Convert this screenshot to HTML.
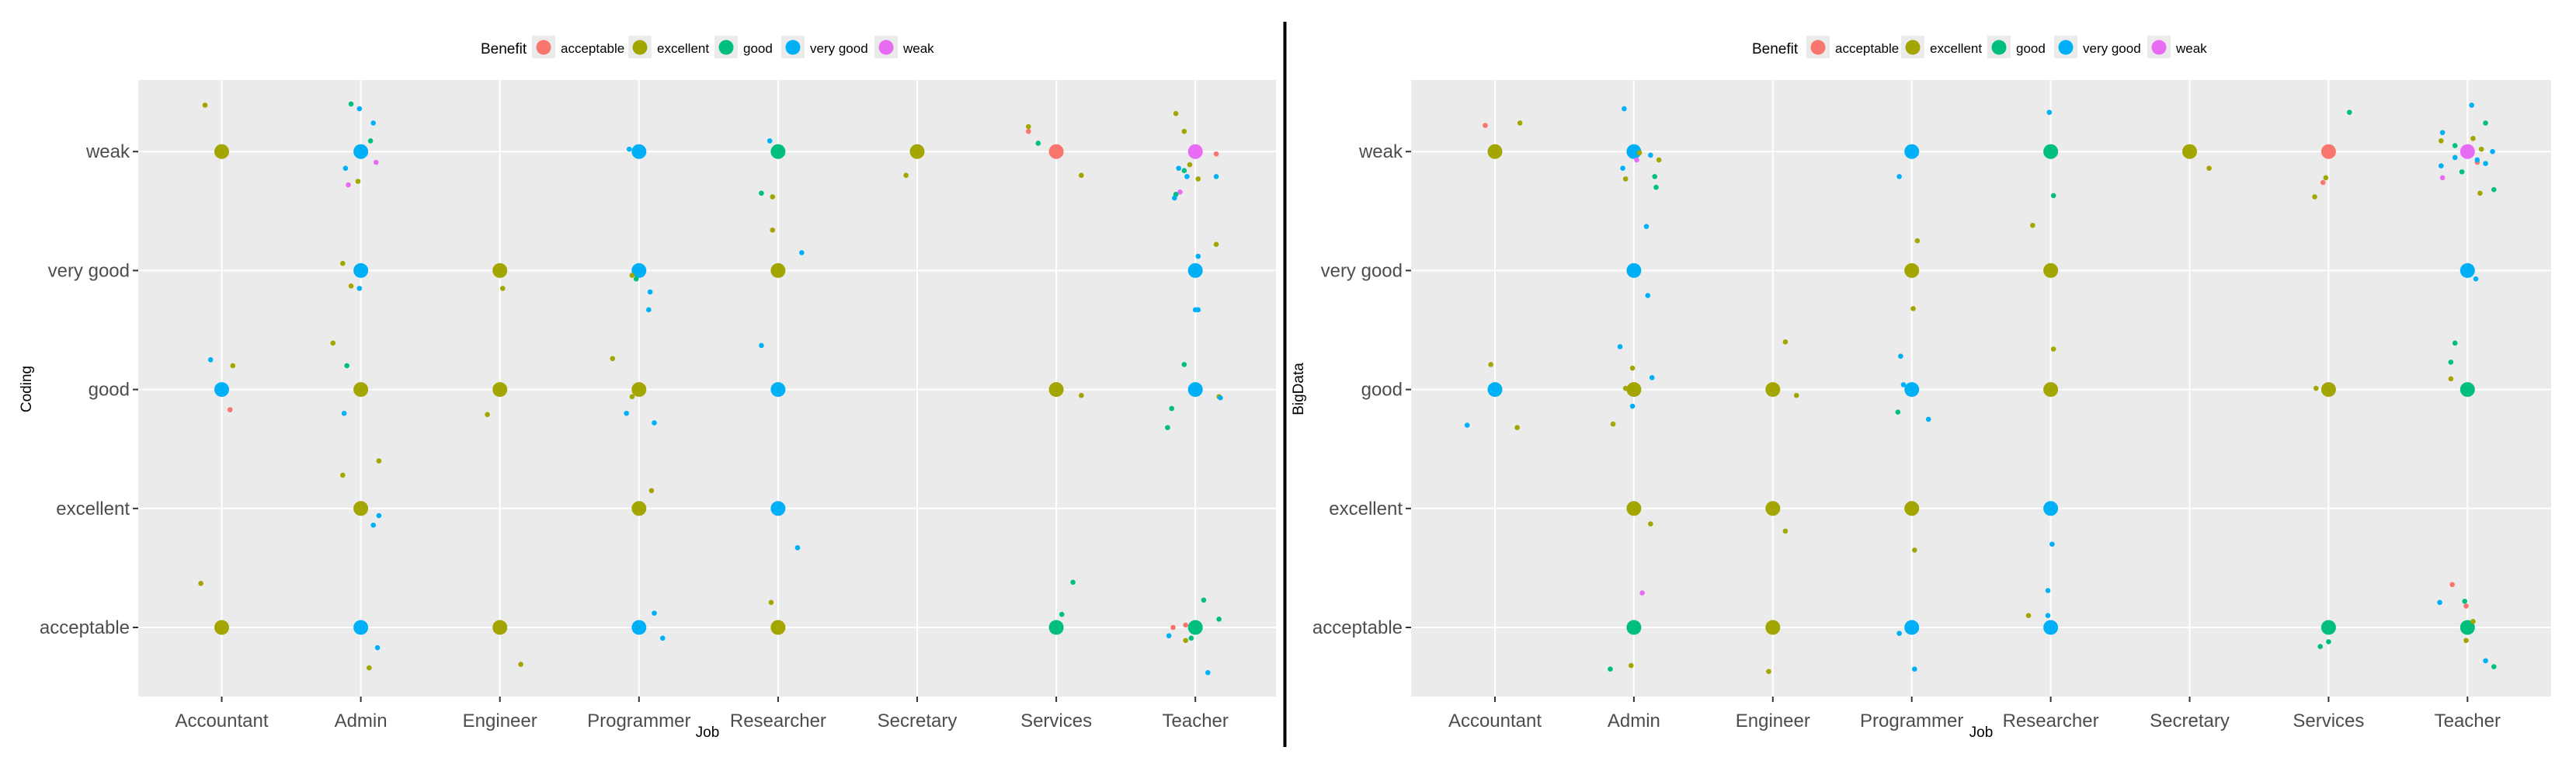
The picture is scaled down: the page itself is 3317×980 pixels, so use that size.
<!DOCTYPE html>
<html><head><meta charset="utf-8">
<style>
html,body{margin:0;padding:0;background:#fff;}
svg{display:block;font-family:"Liberation Sans",Arial,sans-serif;}
</style></head>
<body>
<svg id="chart" width="3317" height="980" viewBox="0 0 3317 980" xmlns="http://www.w3.org/2000/svg"></svg>
<script>
const jobs = ["Accountant","Admin","Engineer","Programmer","Researcher","Secretary","Services","Teacher"];
const levels = ["acceptable","excellent","good","very good","weak"];
const benefits = ["acceptable","excellent","good","very good","weak"];
const benefitCodes = ["A","E","G","V","W"];
const benefitColors = ["#F8766D","#A3A500","#00BF7D","#00B0F6","#E76BF3"];

// [jobIndex, levelIndex, benefitCode]
const codingBig = [
[0,4,"E"],[0,2,"V"],[0,0,"E"],
[1,4,"V"],[1,3,"V"],[1,2,"E"],[1,1,"E"],[1,0,"V"],
[2,3,"E"],[2,2,"E"],[2,0,"E"],
[3,4,"V"],[3,3,"V"],[3,2,"E"],[3,1,"E"],[3,0,"V"],
[4,4,"G"],[4,3,"E"],[4,2,"V"],[4,1,"V"],[4,0,"E"],
[5,4,"E"],
[6,4,"A"],[6,2,"E"],[6,0,"G"],
[7,4,"W"],[7,3,"V"],[7,2,"V"],[7,0,"G"]];
// [jobIndex, xJitter, yValue, benefitCode]
const codingSmall = [
[0,-.12,4.39,"E"],[0,-.08,2.25,"V"],[0,.08,2.20,"E"],[0,.06,1.83,"A"],[0,-.15,0.37,"E"],
[1,-.07,4.40,"G"],[1,-.01,4.36,"V"],[1,.09,4.24,"V"],[1,.07,4.09,"G"],[1,.11,3.91,"W"],[1,-.11,3.86,"V"],[1,-.02,3.75,"E"],[1,-.09,3.72,"W"],[1,-.13,3.06,"E"],[1,-.07,2.87,"E"],[1,-.01,2.85,"V"],[1,-.20,2.39,"E"],[1,-.10,2.20,"G"],[1,-.12,1.80,"V"],[1,.13,1.40,"E"],[1,-.13,1.28,"E"],[1,.13,0.94,"V"],[1,.09,0.86,"V"],[1,.12,-0.17,"V"],[1,.06,-0.34,"E"],
[2,.02,2.85,"E"],[2,-.09,1.79,"E"],[2,.15,-0.31,"E"],
[3,-.07,4.02,"V"],[3,-.02,2.93,"G"],[3,-.05,2.96,"E"],[3,.08,2.82,"V"],[3,.07,2.67,"V"],[3,-.19,2.26,"E"],[3,-.05,1.94,"E"],[3,-.09,1.80,"V"],[3,.11,1.72,"V"],[3,.09,1.15,"E"],[3,.11,0.12,"V"],[3,.17,-0.09,"V"],
[4,-.06,4.09,"V"],[4,-.12,3.65,"G"],[4,-.04,3.62,"E"],[4,-.04,3.34,"E"],[4,.17,3.15,"V"],[4,-.12,2.37,"V"],[4,.14,0.67,"V"],[4,-.05,0.21,"E"],
[5,-.08,3.80,"E"],
[6,-.20,4.21,"E"],[6,-.20,4.17,"A"],[6,-.13,4.07,"G"],[6,.18,3.80,"E"],[6,.18,1.95,"E"],[6,.12,0.38,"G"],[6,.04,0.11,"G"],
[7,-.14,4.32,"E"],[7,-.08,4.17,"E"],[7,.15,3.98,"A"],[7,-.04,3.89,"E"],[7,-.12,3.86,"V"],[7,-.08,3.84,"G"],[7,-.06,3.79,"V"],[7,.02,3.77,"E"],[7,.15,3.79,"V"],[7,-.11,3.66,"W"],[7,-.14,3.64,"G"],[7,-.15,3.61,"V"],[7,.15,3.22,"E"],[7,.02,3.12,"V"],[7,0,2.67,"V"],[7,.02,2.67,"V"],[7,-.08,2.21,"G"],[7,.17,1.94,"E"],[7,.18,1.93,"V"],[7,-.17,1.84,"G"],[7,-.20,1.68,"G"],[7,.06,0.23,"G"],[7,.17,0.07,"G"],[7,-.16,0.0,"A"],[7,-.07,0.02,"A"],[7,-.19,-0.07,"V"],[7,-.03,-0.09,"G"],[7,-.07,-0.11,"E"],[7,.09,-0.38,"V"]];

const bigDataBig = [
[0,4,"E"],[0,2,"V"],
[1,4,"V"],[1,3,"V"],[1,2,"E"],[1,1,"E"],[1,0,"G"],
[2,2,"E"],[2,1,"E"],[2,0,"E"],
[3,4,"V"],[3,3,"E"],[3,2,"V"],[3,1,"E"],[3,0,"V"],
[4,4,"G"],[4,3,"E"],[4,2,"E"],[4,1,"V"],[4,0,"V"],
[5,4,"E"],
[6,4,"A"],[6,2,"E"],[6,0,"G"],
[7,4,"W"],[7,3,"V"],[7,2,"G"],[7,0,"G"]];
const bigDataSmall = [
[0,-.07,4.22,"A"],[0,.18,4.24,"E"],[0,-.03,2.21,"E"],[0,-.20,1.70,"V"],[0,.16,1.68,"E"],
[1,-.07,4.36,"V"],[1,.04,3.99,"E"],[1,.12,3.97,"V"],[1,.02,3.93,"W"],[1,.18,3.93,"E"],[1,-.08,3.86,"V"],[1,.15,3.79,"G"],[1,-.06,3.77,"E"],[1,.16,3.70,"G"],[1,.09,3.37,"V"],[1,.10,2.79,"V"],[1,-.10,2.36,"V"],[1,-.01,2.18,"E"],[1,.13,2.10,"V"],[1,-.06,2.01,"E"],[1,-.01,1.86,"V"],[1,-.15,1.71,"E"],[1,.12,0.87,"E"],[1,.06,0.29,"W"],[1,-.02,-0.32,"E"],[1,-.17,-0.35,"G"],
[2,.09,2.40,"E"],[2,.17,1.95,"E"],[2,.09,0.81,"E"],[2,-.03,-0.37,"E"],
[3,-.09,3.79,"V"],[3,.04,3.25,"E"],[3,.01,2.68,"E"],[3,-.08,2.28,"V"],[3,-.06,2.04,"V"],[3,-.10,1.81,"G"],[3,.12,1.75,"V"],[3,.02,0.65,"E"],[3,-.09,-0.05,"V"],[3,.02,-0.35,"V"],
[4,-.01,4.33,"V"],[4,.02,3.63,"G"],[4,-.13,3.38,"E"],[4,.02,2.34,"E"],[4,.01,0.70,"V"],[4,-.02,0.31,"V"],[4,-.16,0.10,"E"],[4,-.02,0.10,"V"],
[5,.14,3.86,"E"],
[6,.15,4.33,"G"],[6,-.02,3.78,"E"],[6,-.04,3.74,"A"],[6,-.10,3.62,"E"],[6,-.09,2.01,"E"],[6,0,-0.12,"G"],[6,-.06,-0.16,"G"],
[7,.03,4.39,"V"],[7,.13,4.24,"G"],[7,-.18,4.16,"V"],[7,.04,4.11,"E"],[7,-.19,4.09,"E"],[7,-.09,4.05,"G"],[7,.10,4.02,"E"],[7,.18,4.00,"V"],[7,-.09,3.95,"V"],[7,.07,3.91,"A"],[7,.07,3.93,"V"],[7,.13,3.90,"V"],[7,-.19,3.88,"V"],[7,-.04,3.83,"G"],[7,-.18,3.78,"W"],[7,.19,3.68,"G"],[7,.09,3.65,"E"],[7,.06,2.93,"V"],[7,-.09,2.39,"G"],[7,-.12,2.23,"G"],[7,-.12,2.09,"E"],[7,-.11,0.36,"A"],[7,-.02,0.22,"G"],[7,-.01,0.18,"A"],[7,-.20,0.21,"V"],[7,.04,0.05,"E"],[7,-.01,-0.11,"E"],[7,.13,-0.28,"V"],[7,.19,-0.33,"G"]];

const NS = "http://www.w3.org/2000/svg";
const svg = document.getElementById("chart");
function mk(tag, attrs, parent){
  const e = document.createElementNS(NS, tag);
  for (const k in attrs) e.setAttribute(k, attrs[k]);
  (parent||svg).appendChild(e);
  return e;
}
function colorOf(code){ return benefitColors[benefitCodes.indexOf(code)]; }

function panel(opt){
  const g = mk("g", {});
  
  
  const L = opt.left, R = opt.right, T = 103, B = 897;
  const x0 = opt.x0, xStep = opt.xStep;
  const y0 = 808, yStep = 153.2;
  const xs = i => x0 + i * xStep;
  const ys = v => y0 - v * yStep;
  const bg = mk("rect", {x:L, y:T, width:R-L, height:B-T, fill:"#EBEBEB"}, g);
  
  
  levels.forEach((lv,i)=>{
    const y = ys(i);
    const gl = mk("line", {x1:L, x2:R, y1:y, y2:y, stroke:"#fff", "stroke-width":2}, g);
    
    
    mk("line", {x1:L-7, x2:L, y1:y, y2:y, stroke:"#333", "stroke-width":2}, g);
    const t = mk("text", {x:L-11, y:y+8, "text-anchor":"end", "font-size":24, fill:"#4D4D4D"}, g);
    t.textContent = lv;
    
    
  });
  jobs.forEach((j,i)=>{
    const x = xs(i);
    const gl = mk("line", {x1:x, x2:x, y1:T, y2:B, stroke:"#fff", "stroke-width":2}, g);
    
    
    mk("line", {x1:x, x2:x, y1:B, y2:B+7, stroke:"#333", "stroke-width":2}, g);
    const t = mk("text", {x:x, y:B+39, "text-anchor":"middle", "font-size":24, fill:"#4D4D4D"}, g);
    t.textContent = j;
    
    
  });
  opt.big.forEach(p=>{
    const c = mk("circle", {cx:xs(p[0]), cy:ys(p[1]), r:9.5, fill:colorOf(p[2])}, g);
    
    
  });
  opt.small.forEach(p=>{
    const c = mk("circle", {cx:xs(p[0]+p[1]), cy:ys(p[2]), r:3.3, fill:colorOf(p[3])}, g);
    
    
  });
  const xt = mk("text", {x:opt.jobX, y:949, "text-anchor":"middle", "font-size":19, fill:"#000"}, g);
  xt.textContent = "Job";
  
  
  const yt = mk("text", {x:0, y:0, "text-anchor":"middle", "font-size":19, fill:"#000", transform:`translate(${opt.yTitleX},501) rotate(-90)`}, g);
  yt.textContent = opt.yTitle;
  
  
  // legend
  const lg = mk("g", {}, g);
  
  
  const lt = mk("text", {x:opt.leg.title, y:69, "font-size":19, fill:"#000"}, lg);
  lt.textContent = "Benefit";
  
  
  benefits.forEach((b,i)=>{
    const kx = opt.leg.keys[i];
    const e = mk("g", {}, lg);
    
    
    mk("rect", {x:kx-15, y:46, width:30, height:29, fill:"#EBEBEB"}, e);
    mk("circle", {cx:kx, cy:61, r:9.5, fill:benefitColors[i]}, e);
    const t = mk("text", {x:kx+22, y:68, "font-size":17, fill:"#000"}, e);
    t.textContent = b;
  });
}

panel({name:"coding-panel", left:178, right:1643, x0:285.5, xStep:179.1, big:codingBig, small:codingSmall,
  jobX:911, yTitleX:40, yTitle:"Coding",
  leg:{title:619, keys:[700,824,935,1021,1141]}});
panel({name:"bigdata-panel", left:1817, right:3285, x0:1925, xStep:178.9, big:bigDataBig, small:bigDataSmall,
  jobX:2551, yTitleX:1678, yTitle:"BigData",
  leg:{title:2256, keys:[2341,2463,2574,2660,2780]}});

const sep = mk("line", {x1:1654.5, x2:1654.5, y1:28, y2:962, stroke:"#000", "stroke-width":4});


</script>
</body></html>
